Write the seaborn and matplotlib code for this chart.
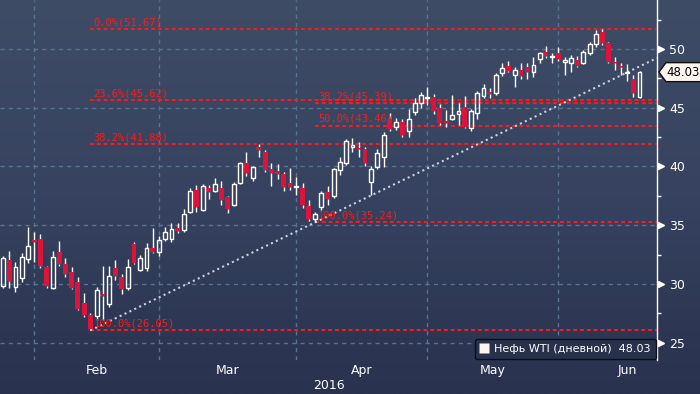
import numpy as np
import pandas as pd
import seaborn as sns
import matplotlib
matplotlib.use("Agg")
import matplotlib.pyplot as plt
import matplotlib.transforms as mtransforms
from matplotlib.colors import LinearSegmentedColormap
from matplotlib.lines import Line2D
from matplotlib.patches import Polygon

# daily candles, WTI (late Jan .. early Jun 2016)
opens = [29.80, 32.01, 29.71, 30.48, 32.10, 33.72, 33.80, 31.41, 29.65, 32.69,
         31.67, 30.99, 30.14, 28.35, 27.32, 27.24, 29.11, 28.26, 31.33, 30.56,
         29.63, 33.38, 31.16, 31.33, 33.04, 32.69, 33.80, 33.80, 34.74, 34.57,
         36.10, 37.98, 36.27, 38.15, 37.89, 38.15, 37.38, 36.70, 38.58, 40.28,
         39.00, 41.64, 41.24, 39.77, 39.60, 39.34, 38.58, 38.28, 38.15, 36.62,
         35.50, 36.53, 37.81, 37.47, 39.68, 40.28, 41.64, 41.56, 41.47, 38.69,
         39.94, 40.79, 44.00, 43.38, 43.78, 43.00, 44.63, 45.39, 45.86, 45.90,
         44.97, 43.86, 44.03, 44.50, 45.03, 43.26, 44.54, 45.99, 46.33, 46.25,
         47.93, 48.55, 47.78, 48.21, 48.44, 48.06, 49.15, 49.77, 49.30, 49.63,
         48.87, 48.83, 49.06, 48.83, 49.69, 50.43, 51.47, 50.51, 48.92, 48.55,
         47.95, 47.41, 45.93]
highs = [32.35, 32.78, 31.84, 32.61, 34.83, 34.40, 34.23, 31.50, 32.78, 33.63,
         32.18, 31.41, 30.56, 29.20, 27.50, 29.71, 31.50, 31.50, 32.01, 30.82,
         32.10, 33.55, 32.44, 33.46, 34.74, 34.06, 34.83, 35.17, 35.20, 36.36,
         38.15, 38.41, 38.49, 38.41, 38.98, 38.75, 37.50, 38.67, 40.40, 41.24,
         40.03, 41.90, 41.39, 40.28, 40.20, 39.51, 39.86, 39.09, 38.60, 37.19,
         36.10, 37.89, 38.32, 39.86, 40.79, 42.30, 42.39, 42.07, 41.67, 40.03,
         41.53, 42.92, 44.54, 44.12, 44.00, 44.88, 45.80, 46.33, 46.76, 46.20,
         45.30, 44.80, 46.08, 45.40, 46.00, 44.90, 46.42, 47.02, 46.67, 47.98,
         48.80, 48.98, 48.50, 48.80, 48.83, 49.29, 49.77, 50.26, 49.69, 50.17,
         49.34, 49.49, 49.40, 49.91, 50.60, 51.62, 51.67, 50.60, 49.34, 48.80,
         48.72, 47.78, 48.12]
lows = [29.63, 29.63, 29.28, 30.14, 31.76, 31.84, 31.33, 29.63, 29.60, 31.50,
        30.56, 29.55, 27.75, 27.15, 26.05, 26.90, 26.90, 28.00, 30.31, 29.11,
        29.45, 31.67, 31.07, 31.07, 32.61, 32.35, 33.63, 33.55, 34.30, 34.40,
        36.00, 36.10, 36.20, 37.27, 37.80, 36.70, 36.00, 36.62, 38.50, 39.17,
        38.80, 40.79, 39.50, 38.32, 38.90, 37.89, 38.00, 37.55, 36.50, 35.40,
        35.24, 36.30, 36.70, 37.30, 39.26, 40.10, 41.24, 40.79, 40.03, 37.55,
        39.80, 39.94, 43.00, 43.10, 42.50, 42.50, 44.40, 44.97, 45.23, 44.50,
        43.50, 43.35, 43.95, 43.50, 43.30, 43.00, 44.00, 45.80, 45.82, 46.10,
        47.70, 48.00, 46.76, 47.44, 47.44, 47.60, 48.80, 49.20, 48.80, 48.95,
        47.78, 48.06, 48.44, 48.70, 49.49, 50.20, 50.30, 48.78, 48.21, 47.78,
        47.30, 45.93, 45.80]
closes = [32.18, 30.22, 31.41, 32.27, 33.21, 33.55, 31.50, 29.80, 32.27, 31.67,
          30.82, 29.63, 27.83, 27.32, 26.13, 29.45, 28.94, 30.65, 30.65, 29.54,
          31.41, 31.76, 32.18, 33.04, 32.69, 33.72, 34.40, 34.65, 34.48, 35.93,
          37.89, 36.53, 38.32, 37.81, 38.49, 37.13, 36.36, 38.49, 40.28, 39.43,
          39.94, 41.39, 39.68, 39.45, 39.34, 38.24, 38.26, 38.34, 36.70, 35.57,
          35.95, 37.72, 37.21, 39.77, 40.40, 42.16, 41.82, 41.45, 40.28, 39.77,
          41.13, 42.67, 43.16, 43.78, 42.67, 44.00, 45.39, 46.08, 45.94, 44.71,
          43.69, 43.70, 44.37, 44.70, 43.35, 44.71, 46.25, 46.67, 46.20, 47.78,
          48.40, 48.15, 48.21, 47.70, 48.06, 48.64, 49.63, 49.43, 49.40, 49.15,
          49.06, 49.20, 48.58, 49.72, 50.43, 51.28, 50.55, 48.92, 48.85, 48.47,
          48.04, 46.25, 48.03]

series_name = "Нефь WTI (дневной)"

# month boundaries (index of first candle of month); last one = end of June
month_names = ["Feb", "Mar", "Apr", "May", "Jun"]
month_bounds = [5, 25, 47, 68, 89, 111]
year_label = "2016"

# fibonacci levels
fib1_pcts = ["0.0%", "23.6%", "38.2%", "100.0%"]
fib1_levels = [51.67, 45.62, 41.88, 26.05]
fib1_start = 14
fib2_pcts = ["38.2%", "50.0%", "100.0%"]
fib2_levels = [45.39, 43.46, 35.24]
fib2_start = 50

# trend line through the two swing lows
trend_pts = [14, 50]

y_ticks = [25, 30, 35, 40, 45, 50]

df = pd.DataFrame({"o": opens, "h": highs, "l": lows, "c": closes})
df["i"] = np.arange(len(df))
df["up"] = df.c >= df.o
df["top"] = df[["o", "c"]].max(axis=1)
df["bot"] = df[["o", "c"]].min(axis=1)

sns.set_style("dark")
plt.rcParams["font.family"] = ["DejaVu Sans"]

fig = plt.figure(figsize=(7, 3.94), dpi=100)

# background gradient
bg = fig.add_axes([0, 0, 1, 1])
bg.axis("off")
cmap = LinearSegmentedColormap.from_list("bg", ["#3f4c66", "#36425f", "#29324f"])
bg.imshow(np.linspace(0, 1, 256)[:, None], aspect="auto", cmap=cmap,
          extent=[0, 1, 0, 1])

ax = fig.add_axes([0, 34 / 394, 657 / 700, 360 / 394])
ax.patch.set_alpha(0)
xmin, xmax = -0.48, 104.8
ymin, ymax = 23.53, 54.17
ax.set_xlim(xmin, xmax)
ax.set_ylim(ymin, ymax)

grid_c = "#587390"
for v in y_ticks:
    ax.axhline(v, color=grid_c, lw=1, ls=(0, (3, 3)), zorder=1)
for m in month_bounds[:-1]:
    ax.axvline(m, color=grid_c, lw=1, ls=(0, (3, 3)), zorder=1)

# fib lines + labels
red = "#ff1a1a"
for pcts, levels, start in [(fib1_pcts, fib1_levels, fib1_start),
                            (fib2_pcts, fib2_levels, fib2_start)]:
    ax.hlines(levels, start, xmax, color=red, lw=1.4, ls=(0, (2, 1.5)), zorder=2)
    for p, lv in zip(pcts, levels):
        ax.annotate(f"{p}({lv:.2f})", xy=(start, lv), xytext=(3, 2),
                    textcoords="offset pixels", color=red, fontsize=7.5,
                    family="DejaVu Sans Mono", va="bottom", ha="left", zorder=6)

# trend line
i0, i1 = trend_pts
slope = (lows[i1] - lows[i0]) / (i1 - i0)
tx = [i0, xmax]
ty = [lows[i0], lows[i0] + slope * (xmax - i0)]
sns.lineplot(x=tx, y=ty, ax=ax, color="#c9d1de", lw=1.5,
             linestyle=(0, (1, 1.6)), zorder=3)

# candles
up = df[df.up]
dn = df[~df.up]
ax.vlines(df.i, df.top, df.h, color="white", lw=1, zorder=4)
ax.vlines(df.i, df.l, df.bot, color="white", lw=1, zorder=4)
ax.bar(dn.i, np.maximum(dn.top - dn.bot, 0.08), bottom=dn.bot, width=0.78,
       color="#dc143c", lw=0, zorder=5)
ax.bar(up.i, np.maximum(up.top - up.bot, 0.08), bottom=up.bot, width=0.62,
       facecolor="none", edgecolor="white", lw=1, zorder=5)

# axes styling
for s in ["left", "top", "bottom"]:
    ax.spines[s].set_visible(False)
ax.spines["right"].set_color("white")
ax.spines["right"].set_linewidth(1)
ax.yaxis.tick_right()
ax.set_yticks(y_ticks)
ax.set_yticks([v + 2.5 for v in [25, 30, 35, 40, 45, 50]], minor=True)
ax.tick_params(axis="y", which="major", length=0, pad=9, labelcolor="white",
               labelsize=9)
ax.tick_params(axis="y", which="minor", length=3, color="white", width=1)
trans = mtransforms.blended_transform_factory(ax.transAxes, ax.transData)
ax.plot([1.006] * len(y_ticks), y_ticks, marker=">", ls="none", ms=5,
        color="white", transform=trans, clip_on=False, zorder=7)

mids = [(a + b) / 2 for a, b in zip(month_bounds[:-1], month_bounds[1:])]
ax.set_xticks(mids)
ax.set_xticklabels(month_names)
ax.set_xticks(month_bounds[:-1], minor=True)
ax.tick_params(axis="x", which="major", length=0, pad=3, labelcolor="white",
               labelsize=9)
ax.tick_params(axis="x", which="minor", length=4, color="white", width=1)
ax.set_xlabel(year_label, color="white", fontsize=9, labelpad=1)
ax.grid(False)

# legend
handle = Line2D([], [], marker="s", ls="none", markerfacecolor="#fff3ee",
                markeredgecolor="none", ms=7)
leg = ax.legend([handle], [f"{series_name}  {closes[-1]:.2f}"], loc="lower right",
                bbox_to_anchor=(1.0, 0.0), fontsize=8, labelcolor="white",
                facecolor="#28314c", edgecolor="#0a0e16", framealpha=1,
                handlelength=0.8, handletextpad=0.5, borderpad=0.45,
                borderaxespad=0.1, fancybox=True)
leg.get_frame().set_linewidth(1)

# last price tag on the axis
fig.canvas.draw()
px, py = trans.transform((1.0, closes[-1]))
pts = [(px + 2, py), (px + 9, py + 9.5), (px + 50, py + 9.5),
       (px + 50, py - 9.5), (px + 9, py - 9.5)]
pts = fig.transFigure.inverted().transform(pts)
fig.add_artist(Polygon(pts, closed=True, facecolor="#fff4ee", edgecolor="#111111",
                       lw=1, transform=fig.transFigure, zorder=8))
fig.text(*fig.transFigure.inverted().transform((px + 9, py)),
         f"{closes[-1]:.2f}", color="black", fontsize=8.5, va="center", ha="left",
         zorder=9)

fig.savefig("out.png", dpi=100)
